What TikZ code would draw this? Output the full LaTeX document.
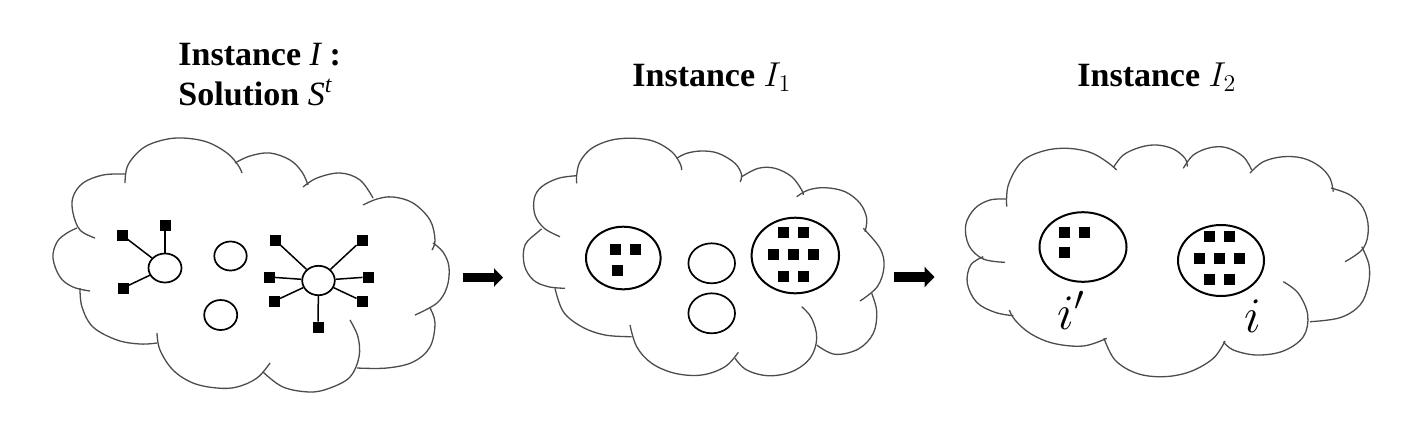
\documentclass[tikz,border=0pt]{standalone}
\usepackage{fontspec}
\setmainfont{Liberation Serif}
\usetikzlibrary{shapes.geometric,arrows.meta}
\newcommand\puff[1]{\draw[cloudline] plot[smooth,tension=0.6] coordinates {#1};}
\begin{document}
\begin{tikzpicture}[x=0.5pt,y=-0.5pt,
  cloudline/.style={draw=black!70, line width=0.65pt},
  sq/.style={rectangle, fill=black, minimum size=5.5pt, inner sep=0pt, outer sep=0pt},
  ell/.style={ellipse, draw=black, line width=0.85pt, inner sep=0pt},
  bigell/.style={ellipse, draw=black, line width=1pt, inner sep=0pt},
  link/.style={draw=black, line width=0.75pt},
  title/.style={anchor=base west, inner sep=0pt, font=\fontsize{17}{20}\selectfont\bfseries},
  lab/.style={anchor=base, inner sep=0pt, font=\fontsize{26}{30}\selectfont}
]
\useasboundingbox (0,0) rectangle (1412,435);

% ---------- titles
\node[title] (t1a) at (178,65) {Instance {\mdseries\itshape I} :};
\node[title] (t1b) at (178,105) {Solution {\mdseries\itshape S}\textsuperscript{\mdseries\itshape t}};
\node[title] (t2) at (632,86) {Instance $I_1$};
\node[title] (t3) at (1077,86) {Instance $I_2$};

% ---------- cloud 1
\puff{(90,291) (73,287) (60,277) (53,258) (57,242) (67,233) (77,228)}
\puff{(95,238) (80,230) (73,213) (73,197) (83,183) (103,175) (125,174)}
\puff{(125,183) (128,165) (143,148) (163,140) (183,138) (207,142) (227,153) (238,165) (242,173)}
\puff{(235,163) (250,156) (270,153) (290,160) (302,172) (308,185)}
\puff{(303,187) (317,178) (340,173) (360,180) (373,198)}
\puff{(363,205) (377,199) (393,197) (413,203) (430,220) (435,240) (432,250)}
\puff{(433,243) (443,252) (449,267) (447,287) (437,303) (415,315)}
\puff{(430,308) (435,323) (430,347) (413,362) (387,368) (357,368)}
\puff{(350,320) (358,337) (359,357) (350,377) (330,388) (310,392) (283,387) (263,372)}
\puff{(270,363) (257,378) (237,387) (217,388) (193,383) (173,370) (160,350) (157,333)}
\puff{(157,343) (140,344) (117,340) (93,327) (82,307) (80,288)}

\node[ell, minimum width=16.5pt, minimum height=14.5pt] (hubL) at (165,268) {};
\node[sq] (l1) at (122,235) {};
\node[sq] (l2) at (165,225) {};
\node[sq] (l3) at (123,288) {};
\draw[link] (hubL) -- (l1);
\draw[link] (hubL) -- (l2);
\draw[link] (hubL) -- (l3);

\node[ell, minimum width=16.2pt, minimum height=14.5pt] (m1) at (230.5,256) {};
\node[ell, minimum width=16.5pt, minimum height=15pt] (m2) at (220.7,315) {};

\node[ell, minimum width=16.3pt, minimum height=14.7pt] (hubR) at (318.5,280.5) {};
\node[sq] (r1) at (275,240) {};
\node[sq] (r2) at (362,240) {};
\node[sq] (r3) at (269,277) {};
\node[sq] (r4) at (368,277) {};
\node[sq] (r5) at (274.5,301) {};
\node[sq] (r6) at (362,301) {};
\node[sq] (r7) at (318,327) {};
\foreach \s in {r1,r2,r3,r4,r5,r6,r7} \draw[link] (hubR) -- (\s);

% ---------- arrow 1
\coordinate (a1s) at (463,277.5);
\coordinate (a1e) at (503,277.5);
\draw[line width=4.5pt, -{Triangle[length=4.5pt,width=9pt]}] (a1s) -- (a1e);

% ---------- cloud 2
\puff{(576.7,183.3) (576.7,175) (580,161.7) (591.7,148.3) (611.7,140) (635,138.3) (655,141.7) (671.7,151.7) (680,163.3) (681.7,170)}
\puff{(676.7,158.3) (686.7,153.3) (701.7,151) (718.3,153.3) (735,163.3) (741.7,175) (740,181.7)}
\puff{(741.7,176.7) (758.3,168.3) (775,168.3) (791.7,176.7) (801.7,190) (803.3,195)}
\puff{(796.7,196.7) (808.3,190) (825,187.7) (845,191.7) (860,203.3) (866.7,218.3) (865,231.7)}
\puff{(863.3,228.3) (880,248.3) (884,266.7) (877.3,286.7) (860,301)}
\puff{(871.7,293.3) (876.7,311.7) (873.3,333.3) (858.3,349) (835,354.3) (816.7,345)}
\puff{(801.7,306.7) (811.7,318.3) (816.7,338.3) (810,358.3) (791.7,371.7) (768.3,375.7) (746.7,370) (735,358.3)}
\puff{(738.3,352.3) (725,366.7) (701.7,375) (675,373.3) (651.7,363.3) (636.7,346.7) (630,325)}
\puff{(631.7,336.7) (605,335) (581.7,326.7) (563.3,311.7) (555,288.3)}
\puff{(565,288.3) (548.3,286.7) (533.3,280) (524.3,265) (525,245) (538.3,231.7) (541.7,229)}
\puff{(560,236.7) (544.3,228.3) (535,215) (534.3,198.3) (541.7,186.7) (558.3,178.3) (576.7,175.7)}

\node[bigell, minimum width=37.3pt, minimum height=31.3pt] (c2L) at (623.3,258) {};
\node[sq] (c2l1) at (615,249.5) {};
\node[sq] (c2l2) at (635,249.5) {};
\node[sq] (c2l3) at (617.3,270.8) {};
\node[ell, minimum width=23.3pt, minimum height=20pt] (c2m1) at (711.7,263.3) {};
\node[ell, minimum width=23.3pt, minimum height=20pt] (c2m2) at (711.7,313.3) {};
\node[bigell, minimum width=43.7pt, minimum height=37.8pt] (c2R) at (795.3,255.5) {};
\node[sq] (c2r1) at (783.5,232.7) {};
\node[sq] (c2r2) at (803.3,232.7) {};
\node[sq] (c2r3) at (773.3,254.3) {};
\node[sq] (c2r4) at (793.3,254.3) {};
\node[sq] (c2r5) at (813.3,254.3) {};
\node[sq] (c2r6) at (783.3,276) {};
\node[sq] (c2r7) at (803.3,276) {};

% ---------- arrow 2
\coordinate (a2s) at (894,277);
\coordinate (a2e) at (934.5,277);
\draw[line width=5pt, -{Triangle[length=5pt,width=10pt]}] (a2s) -- (a2e);

% ---------- cloud 3
\puff{(1006.7,206.7) (1008.3,185) (1021.7,161.7) (1043.3,151) (1066.7,148.3) (1090,152.3) (1106.7,161.7) (1116.7,170)}
\puff{(1113.3,167.7) (1123.3,155) (1140,147.3) (1156.7,145) (1173.3,149) (1185,158.3) (1187.3,166.7)}
\puff{(1183.3,168.3) (1193.3,155) (1210,147.7) (1226.7,147.7) (1243.3,156.7) (1251.7,170)}
\puff{(1250,173) (1263.3,161.7) (1283.3,156.7) (1303.3,158.3) (1320,166.7) (1330,178.3) (1333.3,191.7)}
\puff{(1331,188) (1350,195) (1363.3,208.3) (1368.3,228.3) (1363.3,248.3) (1345,261.7)}
\puff{(1361.7,246.7) (1369,265) (1368.3,285) (1360,305) (1340,317.7) (1310,321.7)}
\puff{(1283.3,281.7) (1298.3,293.3) (1307.7,315) (1303.3,336.7) (1283.3,351) (1256.7,355) (1233.3,350) (1223.3,341.7)}
\puff{(1225,341) (1213.3,358.3) (1190,371.7) (1163.3,376.7) (1136.7,373.3) (1115,360) (1104,338.3)}
\puff{(1106.7,338.3) (1083.3,346) (1053.3,343.3) (1030,333.3) (1015,320) (1009.3,310)}
\puff{(1013.3,315.7) (995,312.3) (976.7,302.3) (967.3,283.3) (970.7,265) (983.3,256.7)}
\puff{(1005,262.3) (983.3,259) (969,245.7) (965.7,225) (975,208.3) (990,200) (1006,199)}

\node[bigell, minimum width=43.5pt, minimum height=34.8pt] (c3L) at (1083,247) {};
\node[sq] (c3l1) at (1064.2,232.8) {};
\node[sq] (c3l2) at (1084.2,232.8) {};
\node[sq] (c3l3) at (1064.2,252.5) {};
\node[bigell, minimum width=43pt, minimum height=35.5pt] (c3R) at (1221,260.5) {};
\node[sq] (c3r1) at (1209.3,236.7) {};
\node[sq] (c3r2) at (1229.3,236.7) {};
\node[sq] (c3r3) at (1199.3,258) {};
\node[sq] (c3r4) at (1219.3,258) {};
\node[sq] (c3r5) at (1239.3,258) {};
\node[sq] (c3r6) at (1209.3,279.2) {};
\node[sq] (c3r7) at (1229.3,279.2) {};
\node[lab] (ip) at (1071,329) {$i'$};
\node[lab] (ii) at (1253,332) {$i$};
\end{tikzpicture}
\end{document}
